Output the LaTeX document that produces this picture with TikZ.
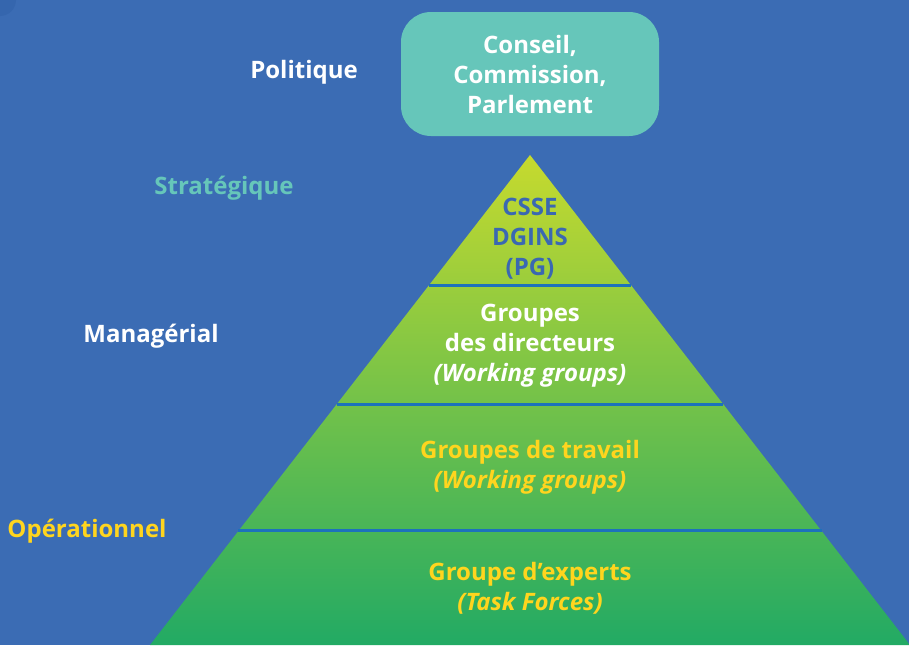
\documentclass[tikz,border=0pt]{standalone}
\usepackage{fontspec}
\setmainfont{Open Sans}
\usepackage{xcolor}
\usepackage{tikz}
\usetikzlibrary{calc, positioning}
\definecolor{Background}{HTML}{3B6CB4}
\definecolor{Background_2}{HTML}{3566AE}
\definecolor{Teal}{HTML}{66C6BA}
\definecolor{Yellow}{HTML}{FFD51E}
\definecolor{LineBlue}{HTML}{1C72BC}
\definecolor{TopGreen}{HTML}{C6DA2E}
\definecolor{BottomGreen}{HTML}{22AA64}
\definecolor{TextBlue}{HTML}{3A68B2}

\begin{document}
\begin{tikzpicture}[x = 1pt, y = -1pt, line join = round,
    label/.style = {font = \fontsize{24}{30}\selectfont\bfseries, align = center, inner sep = 0pt},
    level/.style = {label, anchor = center}]

    \useasboundingbox (0, 0) rectangle (909, 645);
    \fill[Background] (0, 0) rectangle (909, 645);
    \fill[Background_2] (0, 0) circle (16);

    % pyramid
    \coordinate (apex) at (530, 155);
    \coordinate (baseleft) at (150, 645);
    \coordinate (baseright) at (910, 645);
    \shade[top color = TopGreen, bottom color = BottomGreen] (apex) -- (baseleft) -- (baseright) -- cycle;

    \foreach \t [count = \i] in {0.2653, 0.5082, 0.7673}
        \draw[LineBlue, line width = 3pt] ($(apex)!\t!(baseleft)$) coordinate (sepleft\i) -- ($(apex)!\t!(baseright)$) coordinate (sepright\i);

    % box at the top
    \node[label, fill = Teal, rounded corners = 30pt, minimum width = 258pt, minimum height = 124pt, text = white] (council) at (530, 74) {Conseil,\\Commission,\\Parlement};

    \node[level, text = TextBlue] (csse) at (530, 239) {CSSE\\DGINS\\(PG)};
    \node[level, text = white] (directors) at (530, 346) {Groupes\\des directeurs\\\textit{(Working groups)}};
    \node[level, text = Yellow] (working) at (530, 467) {Groupes de travail\\\textit{(Working groups)}};
    \node[level, text = Yellow] (experts) at (530, 588) {Groupe d’experts\\\textit{(Task Forces)}};

    % levels on the left
    \node[label, text = white] (politique) at (304, 72) {Politique};
    \node[label, text = Teal] (strategique) at (224, 188) {Stratégique};
    \node[label, text = white] (managerial) at (151, 336) {Managérial};
    \node[label, text = Yellow] (operationnel) at (87, 531) {Opérationnel};
\end{tikzpicture}
\end{document}
